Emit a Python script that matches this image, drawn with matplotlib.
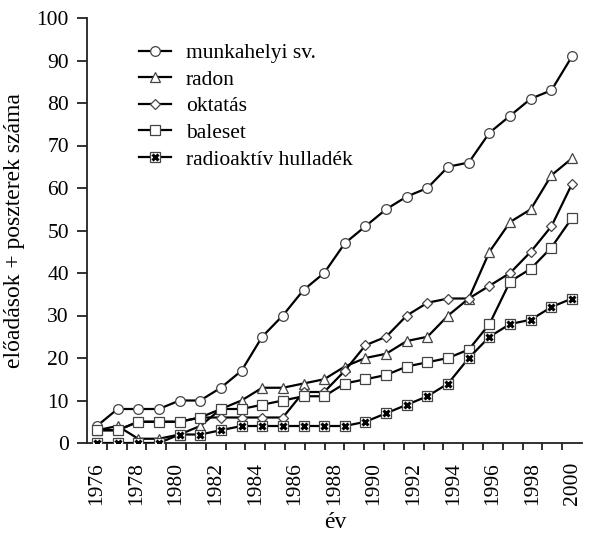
import numpy as np
import matplotlib
matplotlib.use("Agg")
import matplotlib.pyplot as plt

plt.rcParams['font.family'] = ['Liberation Serif', 'DejaVu Serif']
plt.rcParams['font.size'] = 15.5

years = list(range(1976, 2000))
munkahelyi = [4, 8, 8, 8, 10, 10, 13, 17, 25, 30, 36, 40, 47, 51, 55, 58, 60, 65, 66, 73, 77, 81, 83, 91]
radon = [3, 4, 1, 1, 2, 4, 8, 10, 13, 13, 14, 15, 18, 20, 21, 24, 25, 30, 34, 45, 52, 55, 63, 67]
oktatas = [3, 3, 5, 5, 5, 6, 6, 6, 6, 6, 12, 12, 17, 23, 25, 30, 33, 34, 34, 37, 40, 45, 51, 61]
baleset = [3, 3, 5, 5, 5, 6, 8, 8, 9, 10, 11, 11, 14, 15, 16, 18, 19, 20, 22, 28, 38, 41, 46, 53]
hulladek = [0, 0, 0, 0, 2, 2, 3, 4, 4, 4, 4, 4, 4, 5, 7, 9, 11, 14, 20, 25, 28, 29, 32, 34]

label_years = list(range(1976, 2001, 2))

fig = plt.figure(figsize=(6.03, 5.33), dpi=100)
ax = fig.add_axes([87/603, 1-443/533, (582-87)/603, (443-18)/533])

edge = '#444444'
kw = dict(color='black', lw=1.6, mfc='white', mec=edge, mew=0.9, zorder=3)
l1, = ax.plot(years, munkahelyi, marker='o', ms=7, **kw)
l2, = ax.plot(years, radon, marker='^', ms=7.5, **kw)
l3, = ax.plot(years, oktatas, marker='D', ms=5, **kw)
l4, = ax.plot(years, baleset, marker='s', ms=7.5, **kw)
l5, = ax.plot(years, hulladek, marker='s', ms=7.5, **kw)
l5x, = ax.plot(years, hulladek, ls='none', marker='x', ms=5, mec='black', mew=2.2, zorder=4)

# category axis: 25 labels (1976..2000) stretched across the 24 data points
sc = 24 / 23
to_data = lambda y: 1976 + (np.asarray(y, dtype=float) - 1976) / sc
ax.set_xlim(to_data(1975.5), to_data(2000.5))
ax.set_ylim(0, 100)
ax.set_xticks(to_data(label_years))
ax.set_xticklabels([str(y) for y in label_years])
ax.tick_params(axis='x', length=0, labelrotation=90, pad=13.7)
# tick marks between the categories
tick_x = to_data(np.arange(1976.5, 2000, 1))
ax.vlines(tick_x, 0, -7/425, transform=ax.get_xaxis_transform(), clip_on=False,
          color='#222222', lw=1.3)

ax.set_yticks(range(0, 101, 10))
ax.tick_params(axis='y', length=7, width=1.3, direction='out', pad=6, color='#222222')
for s in ['top', 'right']:
    ax.spines[s].set_visible(False)
for s in ['left', 'bottom']:
    ax.spines[s].set_linewidth(1.3)
    ax.spines[s].set_color('#222222')

fig.text(335/603, 1 - 522/533, 'év', ha='center', va='center', fontsize=17)
ax.set_ylabel('előadások + poszterek száma', fontsize=17)
ax.yaxis.set_label_coords(-0.125, 0.5)

ax.legend([l1, l2, l3, l4, (l5, l5x)],
          ['munkahelyi sv.', 'radon', 'oktatás', 'baleset', 'radioaktív hulladék'],
          loc='upper left', bbox_to_anchor=(0.065, 0.986), frameon=False,
          handlelength=1.5, handletextpad=0.7, labelspacing=0.3)

fig.savefig('out.png', dpi=100)
